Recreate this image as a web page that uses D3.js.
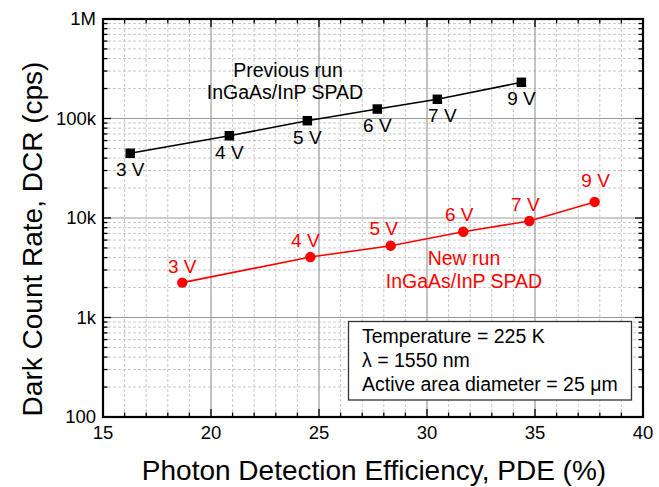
<!DOCTYPE html>
<html>
<head>
<meta charset="utf-8">
<script src="https://cdn.jsdelivr.net/npm/d3@7"></script>
<style>
  html, body { margin: 0; padding: 0; background: #fff; }
  svg { display: block; font-family: "Liberation Sans", Arial, sans-serif; }
</style>
</head>
<body>
<svg id="chart" width="659" height="487"></svg>
<script>
// Bias voltage of each measurement
const voltages = ["3 V", "4 V", "5 V", "6 V", "7 V", "9 V"];

// Previous run: PDE (%) and dark count rate (cps)
const prevPDE = [16.26, 20.85, 24.46, 27.70, 30.48, 34.37];
const prevDCR = [44700, 67100, 95000, 124500, 156000, 231000];

// New run: PDE (%) and dark count rate (cps)
const newPDE = [18.67, 24.6, 28.32, 31.68, 34.74, 37.76];
const newDCR = [2240, 4050, 5270, 7280, 9330, 14500];

// Axis ticks
const xTicks = [15, 20, 25, 30, 35, 40];
const yTicks = [100, 1000, 10000, 100000, 1000000];
const yTickLabels = ["100", "1k", "10k", "100k", "1M"];

const infoLines = ["Temperature = 225 K", "\u03bb = 1550 nm", "Active area diameter = 25 \u03bcm"];

const svg = d3.select("#chart");
const m = { left: 103, right: 643, top: 19, bottom: 417 };

const x = d3.scaleLinear().domain([15, 40]).range([m.left, m.right]);
const y = d3.scaleLog().domain([100, 1e6]).range([m.bottom, m.top]);

// Minor grid
const xMinor = d3.range(15, 40.01, 1).filter(v => v % 5 !== 0);
const yMinor = [];
for (let d = 100; d < 1e6; d *= 10) for (let k = 2; k <= 9; k++) yMinor.push(d * k);

const grid = svg.append("g");
grid.selectAll(".xm").data(xMinor).join("line")
  .attr("x1", d => x(d)).attr("x2", d => x(d))
  .attr("y1", m.top).attr("y2", m.bottom)
  .attr("stroke", "#c8c8c8").attr("stroke-width", 1).attr("stroke-dasharray", "3,2");
grid.selectAll(".ym").data(yMinor).join("line")
  .attr("y1", d => y(d)).attr("y2", d => y(d))
  .attr("x1", m.left).attr("x2", m.right)
  .attr("stroke", "#c8c8c8").attr("stroke-width", 1).attr("stroke-dasharray", "3,2");
// Major grid
grid.selectAll(".xM").data(xTicks.slice(1, -1)).join("line")
  .attr("x1", d => x(d)).attr("x2", d => x(d))
  .attr("y1", m.top).attr("y2", m.bottom)
  .attr("stroke", "#999").attr("stroke-width", 1.2);
grid.selectAll(".yM").data(yTicks.slice(1, -1)).join("line")
  .attr("y1", d => y(d)).attr("y2", d => y(d))
  .attr("x1", m.left).attr("x2", m.right)
  .attr("stroke", "#999").attr("stroke-width", 1.2);

// Inward ticks on all four sides
const majorLen = 8, minorLen = 4.5;
const xMinorAll = xMinor.map(v => ({ v, len: minorLen })).concat(xTicks.map(v => ({ v, len: majorLen })));
const yMinorAll = yMinor.map(v => ({ v, len: minorLen })).concat(yTicks.map(v => ({ v, len: majorLen })));
const ticks = svg.append("g").attr("stroke", "#000").attr("stroke-width", 1.3);
ticks.selectAll(".tb").data(xMinorAll).join("line")
  .attr("x1", d => x(d.v)).attr("x2", d => x(d.v))
  .attr("y1", m.bottom).attr("y2", d => m.bottom - d.len);
ticks.selectAll(".tt").data(xMinorAll).join("line")
  .attr("x1", d => x(d.v)).attr("x2", d => x(d.v))
  .attr("y1", m.top).attr("y2", d => m.top + d.len);
ticks.selectAll(".tl").data(yMinorAll).join("line")
  .attr("y1", d => y(d.v)).attr("y2", d => y(d.v))
  .attr("x1", m.left).attr("x2", d => m.left + d.len);
ticks.selectAll(".tr").data(yMinorAll).join("line")
  .attr("y1", d => y(d.v)).attr("y2", d => y(d.v))
  .attr("x1", m.right).attr("x2", d => m.right - d.len);

// Frame
svg.append("rect")
  .attr("x", m.left).attr("y", m.top)
  .attr("width", m.right - m.left).attr("height", m.bottom - m.top)
  .attr("fill", "none").attr("stroke", "#000").attr("stroke-width", 2.2);

// Tick labels
svg.append("g").selectAll("text").data(xTicks).join("text")
  .attr("x", d => x(d)).attr("y", 439)
  .attr("text-anchor", "middle").attr("font-size", 18.5).attr("fill", "#000")
  .text(d => d);
svg.append("g").selectAll("text").data(yTicks).join("text")
  .attr("x", 96).attr("y", d => y(d))
  .attr("dy", "0.35em")
  .attr("text-anchor", "end").attr("font-size", 18.5).attr("fill", "#000")
  .text((d, i) => yTickLabels[i]);

// Axis titles
svg.append("text")
  .attr("x", (m.left + m.right) / 2 + 1).attr("y", 480)
  .attr("text-anchor", "middle").attr("font-size", 28).attr("fill", "#000")
  .text("Photon Detection Efficiency, PDE (%)");
svg.append("text")
  .attr("transform", `translate(42,${(m.top + m.bottom) / 2 + 21}) rotate(-90)`)
  .attr("text-anchor", "middle").attr("font-size", 28).attr("fill", "#000")
  .text("Dark Count Rate, DCR (cps)");

// Series
const line = d3.line().x(d => x(d[0])).y(d => y(d[1]));
const prevPts = prevPDE.map((v, i) => [v, prevDCR[i]]);
const newPts = newPDE.map((v, i) => [v, newDCR[i]]);

svg.append("path").datum(prevPts).attr("d", line)
  .attr("fill", "none").attr("stroke", "#000").attr("stroke-width", 1.6);
svg.append("path").datum(newPts).attr("d", line)
  .attr("fill", "none").attr("stroke", "#ff0000").attr("stroke-width", 1.6);

const sq = 9.5;
svg.append("g").selectAll("rect").data(prevPts).join("rect")
  .attr("x", d => x(d[0]) - sq / 2).attr("y", d => y(d[1]) - sq / 2)
  .attr("width", sq).attr("height", sq).attr("fill", "#000");
svg.append("g").selectAll("circle").data(newPts).join("circle")
  .attr("cx", d => x(d[0])).attr("cy", d => y(d[1])).attr("r", 5.2)
  .attr("fill", "#ff0000");

// Voltage labels (small nudges keep them clear of the lines)
const prevNudgeX = [0, 0, 0, 0, 5, 0];
const newNudge = [[0, -10], [-5, -10], [-7, -11], [-4, -11], [-4, -10], [1, -15]];
svg.append("g").selectAll("text").data(prevPts).join("text")
  .attr("x", (d, i) => x(d[0]) + prevNudgeX[i]).attr("y", d => y(d[1]) + 23)
  .attr("text-anchor", "middle").attr("font-size", 19).attr("fill", "#000")
  .text((d, i) => voltages[i]);
svg.append("g").selectAll("text").data(newPts).join("text")
  .attr("x", (d, i) => x(d[0]) + newNudge[i][0]).attr("y", (d, i) => y(d[1]) + newNudge[i][1])
  .attr("text-anchor", "middle").attr("font-size", 19).attr("fill", "#ff0000")
  .text((d, i) => voltages[i]);

// Series annotations
const prevNote = svg.append("text").attr("text-anchor", "middle").attr("font-size", 19.5).attr("fill", "#000");
prevNote.append("tspan").attr("x", 288).attr("y", 77).text("Previous run");
prevNote.append("tspan").attr("x", 285).attr("y", 99).text("InGaAs/InP SPAD");
const newNote = svg.append("text").attr("text-anchor", "middle").attr("font-size", 19.5).attr("fill", "#ff0000");
newNote.append("tspan").attr("x", 464).attr("y", 265).text("New run");
newNote.append("tspan").attr("x", 464).attr("y", 288).text("InGaAs/InP SPAD");

// Conditions box
svg.append("rect")
  .attr("x", 348.5).attr("y", 321.5).attr("width", 283).attr("height", 78.5)
  .attr("fill", "#fff").attr("stroke", "#333").attr("stroke-width", 1.3);
svg.append("g").selectAll("text").data(infoLines).join("text")
  .attr("x", 362).attr("y", (d, i) => 343 + i * 23.8)
  .attr("font-size", 19.5).attr("fill", "#000")
  .text(d => d);
</script>
</body>
</html>
